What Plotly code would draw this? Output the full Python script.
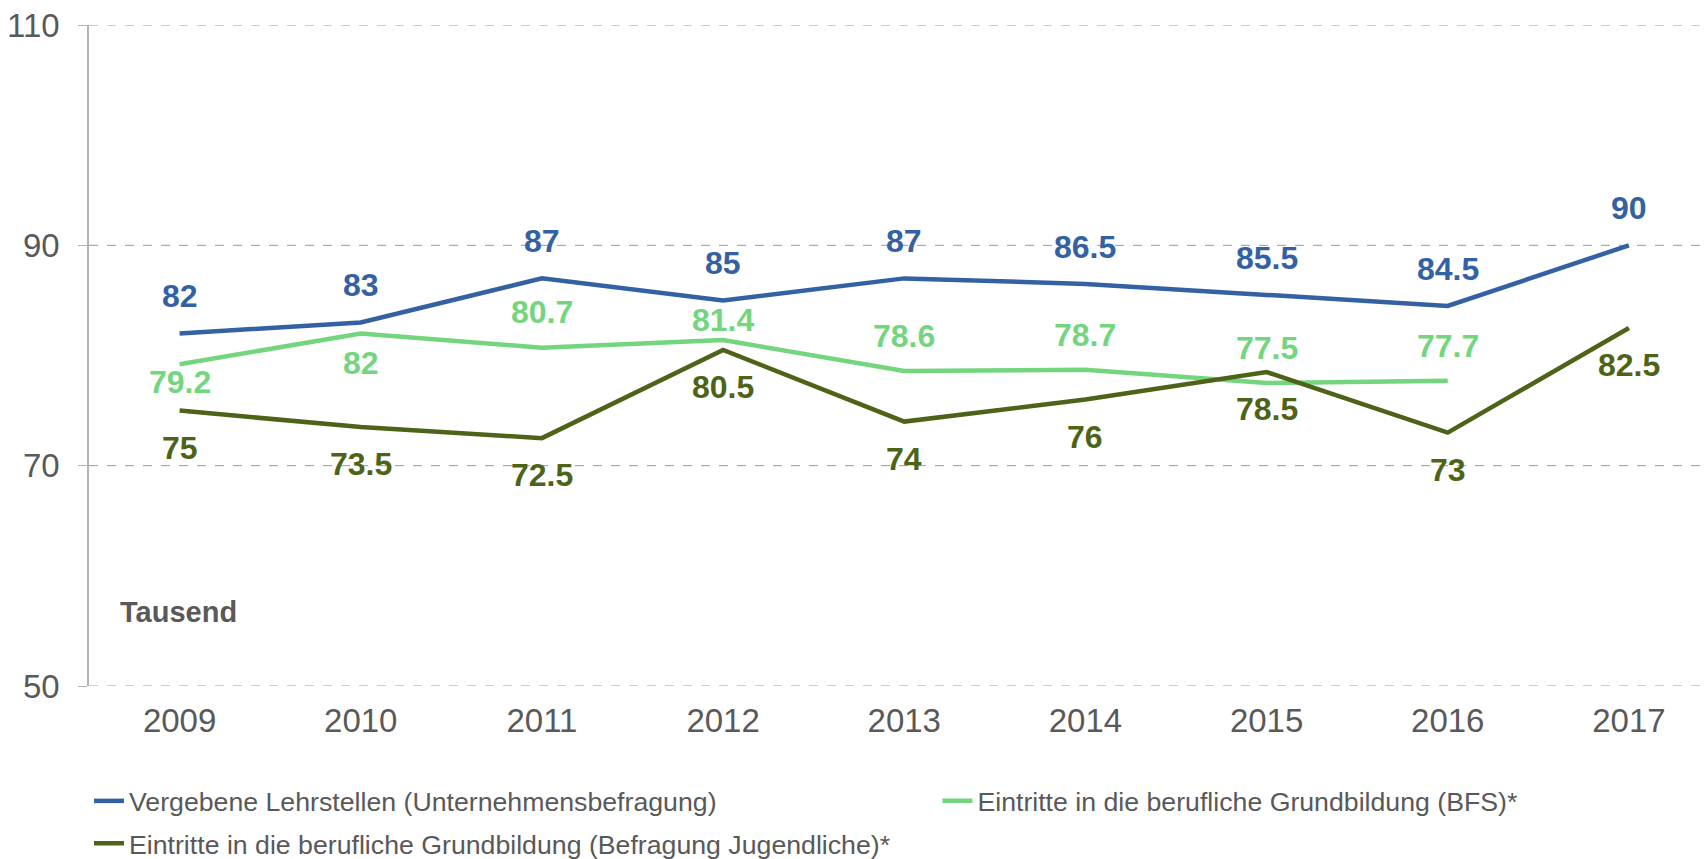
import plotly.graph_objects as go

years = ["2009", "2010", "2011", "2012", "2013", "2014", "2015", "2016", "2017"]
lehrstellen = [82, 83, 87, 85, 87, 86.5, 85.5, 84.5, 90]
eintritte_bfs = [79.2, 82, 80.7, 81.4, 78.6, 78.7, 77.5, 77.7]
eintritte_jug = [75, 73.5, 72.5, 80.5, 74, 76, 78.5, 73, 82.5]
y_ticks = [50, 70, 90, 110]

names = [
    "Vergebene Lehrstellen (Unternehmensbefragung)",
    "Eintritte in die berufliche Grundbildung (BFS)*",
    "Eintritte in die berufliche Grundbildung (Befragung Jugendliche)*",
]
colors = ["#3461a3", "#73d67f", "#4d6418"]
text_grey = "#595959"
font_family = "Liberation Sans, Arial, sans-serif"

# vertical offsets of the value labels (px, + = above the line)
label_shift = [
    [37] * 9,
    [-18, -30, 36, 20, 35, 35, 35, 35],
    [-37] * 9,
]

series = [lehrstellen, eintritte_bfs, eintritte_jug]
legend_ids = ["legend", "legend2", "legend3"]

fig = go.Figure()

# dashed gridlines (drawn as shapes so the ones at the range ends show too)
for t in y_ticks:
    fig.add_hline(y=t, line=dict(color="#9a9a9a", width=1, dash="dash"), layer="below")

for vals, name, col, lg in zip(series, names, colors, legend_ids):
    fig.add_trace(go.Scatter(
        x=years[:len(vals)], y=vals, name=name, mode="lines",
        line=dict(color=col, width=4.5),
        hoverinfo="skip", legend=lg,
    ))

for vals, col, shifts in zip(series, colors, label_shift):
    for i, (v, s) in enumerate(zip(vals, shifts)):
        fig.add_annotation(
            x=i, y=v, xref="x", yref="y", text=f"<b>{v:g}</b>", showarrow=False,
            yshift=s, font=dict(size=32, color=col, family=font_family),
        )

fig.add_annotation(
    xref="paper", yref="paper", x=0.0177, y=0.112,
    xanchor="left", yanchor="middle", showarrow=False,
    text="<b>Tausend</b>", font=dict(size=29, color=text_grey, family=font_family),
)

legend_style = dict(
    orientation="h", xanchor="left", yanchor="middle",
    font=dict(size=26.7, color=text_grey, family=font_family),
    bgcolor="rgba(0,0,0,0)",
)

fig.update_layout(
    width=1705, height=859,
    margin=dict(l=89, r=0, t=25, b=173, autoexpand=False),
    paper_bgcolor="white", plot_bgcolor="white",
    font=dict(family=font_family, color=text_grey),
    showlegend=True,
    legend=dict(x=0, y=-0.174, **legend_style),
    legend2=dict(x=0.525, y=-0.174, **legend_style),
    legend3=dict(x=0, y=-0.238, **legend_style),
)

fig.update_xaxes(
    type="category", range=[-0.5, 8.42], automargin=False,
    showgrid=False, showline=False, zeroline=False,
    ticks="", tickfont=dict(size=33, color=text_grey),
    ticklabelstandoff=12,
)
fig.update_yaxes(
    range=[50, 110], tickvals=y_ticks, automargin=False,
    showgrid=False, showline=True, linecolor="#b3b3b3", linewidth=1.5,
    zeroline=False,
    ticks="outside", ticklen=9, tickcolor="#b3b3b3",
    tickfont=dict(size=33, color=text_grey),
    ticklabelstandoff=12,
)

fig.write_html(
    "out.html",
    config={"displayModeBar": False},
    post_script="document.body.style.margin='0';",
)
